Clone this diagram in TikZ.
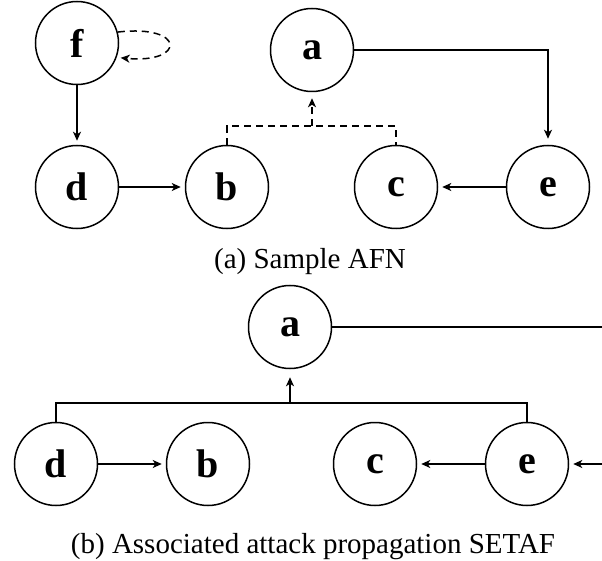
\documentclass[tikz,border=0pt]{standalone}
\usepackage{fontspec}
\setmainfont{Liberation Serif}
\usetikzlibrary{arrows.meta}

\begin{document}
\begin{tikzpicture}[x=1pt, y=-1pt,
    arg/.style={circle, draw, line width=1.5pt, minimum size=83pt, inner sep=0pt,
        font=\fontsize{40}{40}\selectfont\bfseries},
    att/.style={line width=1.5pt, -{Stealth[length=9pt, width=8pt, inset=2.5pt]}, shorten >=4pt},
    hyp/.style={line width=1.5pt, dash pattern=on 7pt off 5pt},
    caption/.style={anchor=base, font=\fontsize{29}{34}\selectfont}]
    \useasboundingbox (0,0) rectangle (602,561);
    \clip (0,0) rectangle (602,561);

    %sample AFN
    \node[arg] (f) at (77,43) {f};
    \node[arg] (a) at (312,50) {a};
    \node[arg] (d) at (77,187) {d};
    \node[arg] (b) at (227,187) {b};
    \node[arg] (c) at (396,187) {c};
    \node[arg] (e) at (548,187) {e};
    \coordinate (ha) at (312,126);

    \draw[att] (f) -- (d);
    \draw[att] (d) -- (b);
    \draw[att] (e) -- (c);
    \draw[att, shorten >=6pt] (a.east) -| (e.north);
    \draw[att, hyp] (f.15) .. controls (186,24) and (186,64) .. (f.-20);
    \draw[hyp] (b.north) |- (ha) -| (c.north);
    \draw[att, hyp, shorten >=6pt] (ha) -- (a.south);

    \node[caption] (capa) at (310,269) {(a) Sample AFN};

    %SETAF
    \node[arg] (a2) at (290,327) {a};
    \node[arg] (d2) at (56,464) {d};
    \node[arg] (b2) at (208,464) {b};
    \node[arg] (c2) at (375,464) {c};
    \node[arg] (e2) at (527,464) {e};
    \coordinate (hb) at (290,403);
    \coordinate (rt) at (602,327);
    \coordinate (rb) at (602,464);

    \draw[att] (d2) -- (b2);
    \draw[att] (e2) -- (c2);
    \draw[line width=1.5pt] (a2.east) -- (rt);
    \draw[att] (rb) -- (e2.east);
    \draw[line width=1.5pt] (d2.north) |- (hb) -| (e2.north);
    \draw[att, shorten >=8pt] (hb) -- (a2.south);

    \node[caption] (capb) at (313,553) {(b) Associated attack propagation SETAF};
\end{tikzpicture}
\end{document}
